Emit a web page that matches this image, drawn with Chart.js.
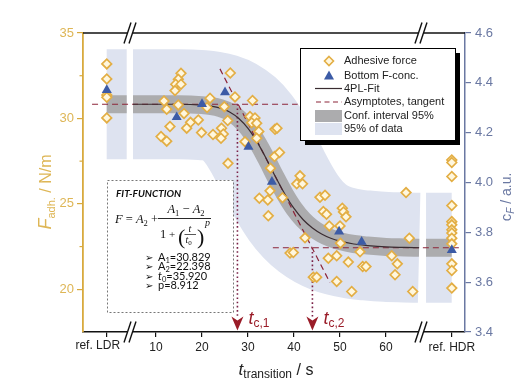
<!DOCTYPE html>
<html><head><meta charset="utf-8">
<script src="https://cdn.jsdelivr.net/npm/chart.js@4.4.1/dist/chart.umd.min.js"></script>
<style>html,body{margin:0;padding:0;background:#fff;}#wrap{width:532px;height:390px;}</style>
</head><body><div id="wrap"><canvas id="c" width="532" height="390"></canvas></div>
<script>
// ---------------- data ----------------
const xMin = -5.87, xMax = 77.17;
const xTickVals = [-0.7, 10, 20, 30, 40, 50, 60, 74.3];
const xTickLabels = ['ref. LDR', '10', '20', '30', '40', '50', '60', 'ref. HDR'];
const xBreaks = [4.35, 67.6];
const yLeftTicks = [20, 25, 30, 35];
const yLeftMinor = [22.5, 27.5, 32.5];
const yRightTicks = [3.4, 3.6, 3.8, 4.0, 4.2, 4.4, 4.6];

// Adhesive force (left axis, N/m)
const adhT = [-0.7, -0.7, -0.7, -0.7, -0.7,
  11.74, 12.33, 15.43, 14.85, 14.28, 15.43, 14.13, 14.85, 16.09, 17.50,
  16.67, 19.20, 13.04, 11.09, 12.33, 19.89, 21.74, 21.09, 22.39, 24.24,
  24.63, 24.13, 26.15, 27.17, 24.85, 25.59, 30.98, 30.43, 31.52, 30.80,
  31.89, 32.35, 29.35, 31.89, 35.87, 36.30, 25.65, 35.76, 36.85, 34.89,
  41.30, 40.59, 41.85, 34.78, 32.46, 34.30, 37.50, 34.41, 45.65, 46.74,
  46.37, 47.07, 50.50, 50.76, 51.30, 47.67, 50.00, 42.39, 50.10, 54.35,
  47.46, 49.28, 39.13, 39.85, 51.80, 54.93, 55.65, 44.20, 44.93, 49.28,
  52.54, 64.35, 65.07, 61.24, 62.46, 61.96, 65.80,
  74.3, 74.3, 74.3, 74.3, 74.3, 74.3, 74.3, 74.3, 74.3, 74.3, 74.3, 74.3, 74.3];
const adhF = [33.19, 32.31, 31.37, 31.24, 30.03,
  31.02, 30.54, 32.64, 32.29, 32.00, 32.00, 31.63, 30.79, 30.29, 29.77,
  29.43, 29.91, 29.53, 28.94, 28.67, 29.17, 31.18, 30.64, 29.06, 29.43,
  29.09, 28.84, 32.66, 31.26, 30.69, 29.88, 31.05, 30.11, 30.03, 29.75,
  29.72, 29.24, 28.64, 28.84, 29.37, 29.43, 27.37, 27.77, 28.01, 27.09,
  26.64, 26.17, 26.17, 25.76, 25.33, 25.23, 25.36, 24.30, 25.39, 25.50,
  24.55, 24.39, 24.75, 24.53, 24.24, 23.71, 23.71, 23.01, 22.70, 22.19,
  21.82, 21.96, 22.12, 22.15, 21.59, 21.33, 21.33, 20.71, 20.71, 20.46,
  19.87, 25.66, 22.99, 21.96, 21.49, 20.85, 19.87,
  27.57, 27.42, 26.60, 24.90, 23.96, 23.77, 23.48, 23.29, 22.99, 22.66, 21.49, 21.10, 20.07];

// Bottom F-concentration (right axis, a.u.)
const concT = [-0.7, 14.5, 20.0, 25.0, 30.1, 35.2, 49.8, 54.7, 74.3];
const concC = [4.371, 4.262, 4.315, 4.362, 4.143, 4.003, 3.803, 3.762, 3.729];

// 4PL fit curve
const fitT = [5, 10, 15, 20, 22, 24, 26, 28, 30, 32, 34, 36, 38, 40, 42, 44, 46, 48, 50, 53, 56, 60, 64, 67.2];
const fitF = [30.83, 30.83, 30.83, 30.78, 30.72, 30.60, 30.38, 30.00, 29.42, 28.61, 27.63, 26.57, 25.58, 24.73, 24.07, 23.59, 23.24, 22.99, 22.82, 22.65, 22.56, 22.48, 22.45, 22.43];

// reference bands
const ldrBandT = [-0.72, 3.63], ldrBandF = [30.83, 30.83];
const hdrBandT = [68.7, 74.28], hdrBandF = [22.43, 22.43];

// asymptotes, tangent, critical times
const upAsymT = [-3.9, 40.8], upAsymF = [30.83, 30.83];
const loAsymT = [35.4, 76.7], loAsymF = [22.43, 22.43];
const tanT = [23.9, 47.8], tanF = [32.9, 20.4];
const tcT = [27.7, 44.0];
const tcTopF = [30.83, 22.43];
const tcBottomF = 18.35;
const tcLabels = ['c,1', 'c,2'];

// ---------------- styles ----------------
const GOLD = '#d8aa3e', GOLDTXT = '#deb656', BLUEAX = '#6a78a2';
const LIGHT = '#dee3f0', GRAY = '#acacae', RED = '#8c2438', DRED = '#9a1c28';
const SANS = '"Liberation Sans", Arial, sans-serif';

function pts(T, V) { return T.map((t, i) => ({ x: t, y: V[i] })); }
function band(T, V, w, col, ord) {
  return { type: 'line', data: pts(T, V), yAxisID: 'yL', borderColor: col, borderWidth: w,
    pointRadius: 0, cubicInterpolationMode: 'monotone', borderCapStyle: 'butt', borderJoinStyle: 'round', order: ord, fill: false };
}
function dline(T, V, dash, col, w, ord) {
  return { type: 'line', data: pts(T, V), yAxisID: 'yL', borderColor: col, borderWidth: w, borderDash: dash,
    pointRadius: 0, order: ord, fill: false };
}

const datasets = [
  { type: 'scatter', label: 'Adhesive force', data: pts(adhT, adhF), yAxisID: 'yL', pointStyle: 'rectRot',
    pointRadius: 4.8, borderWidth: 1.7, borderColor: '#e3ae44', backgroundColor: '#fff7de', order: 1 },
  { type: 'scatter', label: 'Bottom F-conc.', data: pts(concT, concC), yAxisID: 'yR', pointStyle: 'triangle',
    pointRadius: 5.8, borderWidth: 0, borderColor: '#3c5ba6', backgroundColor: '#3c5ba6', order: 0 },
  { type: 'line', label: '4PL-Fit', data: pts(fitT, fitF), yAxisID: 'yL', borderColor: '#3a2c31', borderWidth: 1.2,
    pointRadius: 0, cubicInterpolationMode: 'monotone', order: 3, fill: false },
  dline(upAsymT, upAsymF, [6, 4], RED, 1.2, 4),
  dline(loAsymT, loAsymF, [6, 4], RED, 1.2, 4),
  dline(tanT, tanF, [6, 4], RED, 1.2, 4),
  dline([tcT[0], tcT[0]], [tcTopF[0], tcBottomF], [1.6, 2.6], '#7a2046', 1.6, 4),
  dline([tcT[1], tcT[1]], [tcTopF[1], tcBottomF], [1.6, 2.6], '#7a2046', 1.6, 4),
  band(fitT, fitF, 18, GRAY, 8),
  band(ldrBandT, ldrBandF, 18, GRAY, 8),
  band(hdrBandT, hdrBandF, 18, GRAY, 8),
  band(fitT, fitF, 110, LIGHT, 9),
  band(ldrBandT, ldrBandF, 110, LIGHT, 9),
  band(hdrBandT, hdrBandF, 110, LIGHT, 9)
];

function drawRich(ctx, x, y, parts, align) {
  let w = 0;
  for (const p of parts) { ctx.font = p[1]; w += ctx.measureText(p[0]).width; }
  let cx = align === 'center' ? x - w / 2 : x;
  for (const p of parts) { ctx.font = p[1]; ctx.fillText(p[0], cx, y + (p[2] || 0)); cx += ctx.measureText(p[0]).width; }
  return w;
}

const deco = {
  id: 'deco',
  afterDatasetsDraw(chart) {
    const ctx = chart.ctx, xs = chart.scales.x, yl = chart.scales.yL;
    ctx.save();
    tcT.forEach((t, i) => {
      const px = xs.getPixelForValue(t);
      const py = yl.getPixelForValue(tcBottomF);
      ctx.fillStyle = DRED;
      ctx.beginPath();
      ctx.moveTo(px - 6, py - 1); ctx.lineTo(px, py + 3); ctx.lineTo(px + 6, py - 1); ctx.lineTo(px, py + 13);
      ctx.closePath(); ctx.fill();
      ctx.textAlign = 'left'; ctx.textBaseline = 'alphabetic';
      drawRich(ctx, px + 11, py + 7, [['t', 'italic 18px ' + SANS], [tcLabels[i], '12px ' + SANS, 3]]);
    });
    ctx.restore();
  },
  afterDraw(chart) {
    const ctx = chart.ctx, ca = chart.chartArea, xs = chart.scales.x, yl = chart.scales.yL;
    ctx.save();
    // top axis line
    ctx.strokeStyle = '#111'; ctx.lineWidth = 1.5;
    ctx.beginPath(); ctx.moveTo(ca.left, ca.top); ctx.lineTo(ca.right, ca.top); ctx.stroke();
    // axis breaks
    xBreaks.forEach(b => {
      const bx = xs.getPixelForValue(b);
      [ca.top, ca.bottom].forEach(by => {
        ctx.fillStyle = '#fff'; ctx.fillRect(bx - 2.5, by - 2, 5, 4);
        ctx.strokeStyle = '#111'; ctx.lineWidth = 1.4;
        [-2.5, 2.5].forEach(o => {
          ctx.beginPath(); ctx.moveTo(bx + o - 3.5, by + 10.5); ctx.lineTo(bx + o + 3.5, by - 10.5); ctx.stroke();
        });
      });
    });
    // minor ticks left
    ctx.strokeStyle = GOLD; ctx.lineWidth = 1.2;
    yLeftMinor.forEach(v => {
      const py = yl.getPixelForValue(v);
      ctx.beginPath(); ctx.moveTo(ca.left - 3.5, py); ctx.lineTo(ca.left, py); ctx.stroke();
    });
    ctx.textAlign = 'left'; ctx.textBaseline = 'alphabetic';
    // first x label (set left of its tick, as in the original)
    ctx.fillStyle = '#222'; ctx.font = '12px ' + SANS; ctx.textAlign = 'center'; ctx.textBaseline = 'top';
    ctx.fillText(xTickLabels[0], xs.getPixelForValue(xTickVals[0]) - 9, ca.bottom + 8);
    ctx.textAlign = 'left'; ctx.textBaseline = 'alphabetic';
    // left title
    ctx.save(); ctx.translate(51, 192); ctx.rotate(-Math.PI / 2); ctx.fillStyle = GOLDTXT;
    drawRich(ctx, 0, 0, [['F', 'italic 18px ' + SANS], ['adh.', '11px ' + SANS, 4], [' / N/m', '16px ' + SANS]], 'center');
    ctx.restore();
    // right title
    ctx.save(); ctx.translate(511, 197); ctx.rotate(-Math.PI / 2); ctx.fillStyle = BLUEAX;
    drawRich(ctx, 0, 0, [['c', '15px ' + SANS], ['F', 'italic 10px ' + SANS, 3], [' / a.u.', '14px ' + SANS]], 'center');
    ctx.restore();
    // x title
    ctx.fillStyle = '#222';
    drawRich(ctx, 276, 375, [['t', 'italic 17px ' + SANS], ['transition', '12px ' + SANS, 3], [' / s', '16px ' + SANS]], 'center');

    // fit-function box
    ctx.fillStyle = '#fff'; ctx.fillRect(107, 180, 126, 132);
    ctx.strokeStyle = '#777'; ctx.lineWidth = 1; ctx.setLineDash([2, 2]);
    ctx.strokeRect(107.5, 180.5, 126, 132); ctx.setLineDash([]);
    ctx.fillStyle = '#111';
    ctx.font = 'italic bold 10px Lato, sans-serif'; ctx.fillText('FIT-FUNCTION', 116, 197);
    const SI = 'italic 12.5px "Liberation Serif", serif', SR = '12.5px "Liberation Serif", serif', SS = '8.5px "Liberation Serif", serif';
    drawRich(ctx, 115, 223, [['F', SI], [' = ', SR], ['A', SI], ['2', SS, 3], [' +', SR]]);
    ctx.lineWidth = 0.9; ctx.strokeStyle = '#111';
    ctx.beginPath(); ctx.moveTo(158, 218.5); ctx.lineTo(211, 218.5); ctx.stroke();
    drawRich(ctx, 186, 213, [['A', SI], ['1', SS, 3], [' \u2212 ', SR], ['A', SI], ['2', SS, 3]], 'center');
    drawRich(ctx, 160, 238, [['1', SR], [' + ', '11px "Liberation Serif", serif']]);
    ctx.font = '22px "Liberation Serif", serif'; ctx.fillText('(', 178, 244); ctx.fillText(')', 197, 244);
    ctx.font = 'italic 10px "Liberation Serif", serif'; ctx.textAlign = 'center'; ctx.fillText('t', 190, 232);
    ctx.beginPath(); ctx.moveTo(184.5, 234.5); ctx.lineTo(196, 234.5); ctx.lineWidth = 0.7; ctx.stroke();
    ctx.textAlign = 'left';
    drawRich(ctx, 185.5, 243, [['t', 'italic 10px "Liberation Serif", serif'], ['0', '7px "Liberation Serif", serif', 2]]);
    ctx.font = 'italic 10px "Liberation Serif", serif'; ctx.fillText('p', 205, 226);
    const BF = '11px Lato, sans-serif', BS = '7.5px Lato, sans-serif', BI = 'italic 11px Lato, sans-serif';
    const rows = [
      [['A', BF], ['1', BS, 2], ['=30.829', BF]],
      [['A', BF], ['2', BS, 2], ['=22.398', BF]],
      [['t', BI], ['0', BS, 2], ['=35.920', BF]],
      [['p=8.912', BF]]
    ];
    rows.forEach((r, i) => {
      const y = 261 + i * 9.3;
      ctx.font = '10px "DejaVu Sans", sans-serif'; ctx.fillText('\u27A2', 145, y);
      drawRich(ctx, 158, y, r);
    });

    // legend
    const LX = 300, LY = 48, LW = 155, LH = 92;
    ctx.fillStyle = '#000'; ctx.fillRect(LX + 5, LY + 5, LW, LH);
    ctx.fillStyle = '#fff'; ctx.fillRect(LX, LY, LW, LH);
    ctx.strokeStyle = '#000'; ctx.lineWidth = 1; ctx.strokeRect(LX + 0.5, LY + 0.5, LW, LH);
    const rowsY = [61, 75.5, 88.5, 102, 115.5, 128.5];
    const labels = ['Adhesive force', 'Bottom F-conc.', '4PL-Fit', 'Asymptotes, tangent', 'Conf. interval 95%', '95% of data'];
    const ix = 329;
    ctx.beginPath(); ctx.moveTo(ix, rowsY[0] - 4.5); ctx.lineTo(ix + 4.5, rowsY[0]); ctx.lineTo(ix, rowsY[0] + 4.5); ctx.lineTo(ix - 4.5, rowsY[0]); ctx.closePath();
    ctx.fillStyle = '#fff7de'; ctx.fill(); ctx.strokeStyle = '#e3ae44'; ctx.lineWidth = 1.6; ctx.stroke();
    ctx.beginPath(); ctx.moveTo(ix, rowsY[1] - 5); ctx.lineTo(ix + 5, rowsY[1] + 4); ctx.lineTo(ix - 5, rowsY[1] + 4); ctx.closePath();
    ctx.fillStyle = '#3c5ba6'; ctx.fill();
    ctx.strokeStyle = '#3a2c31'; ctx.lineWidth = 1.2;
    ctx.beginPath(); ctx.moveTo(315, rowsY[2]); ctx.lineTo(342, rowsY[2]); ctx.stroke();
    ctx.strokeStyle = RED; ctx.setLineDash([5, 3.5]);
    ctx.beginPath(); ctx.moveTo(316, rowsY[3]); ctx.lineTo(342, rowsY[3]); ctx.stroke(); ctx.setLineDash([]);
    ctx.fillStyle = GRAY; ctx.fillRect(315, 110, 27, 12);
    ctx.fillStyle = LIGHT; ctx.fillRect(315, 123, 27, 12);
    ctx.fillStyle = '#222'; ctx.font = '11px ' + SANS; ctx.textBaseline = 'middle';
    labels.forEach((l, i) => ctx.fillText(l, 344, rowsY[i]));
    ctx.restore();
  }
};

new Chart(document.getElementById('c'), {
  type: 'scatter',
  data: { datasets },
  options: {
    responsive: false, animation: false, events: [],
    layout: { padding: { top: 33, left: 0, right: 0, bottom: 0 } },
    plugins: { legend: { display: false }, tooltip: { enabled: false } },
    scales: {
      x: {
        type: 'linear', min: xMin, max: xMax,
        afterBuildTicks: s => { s.ticks = xTickVals.map(v => ({ value: v })); },
        afterFit: s => { s.height = 58; },
        ticks: { callback: (v, i) => (i === 0 ? '' : xTickLabels[i]), color: '#222', font: { family: SANS, size: 12 }, padding: 3, maxRotation: 0, autoSkip: false },
        grid: { drawOnChartArea: false, drawTicks: true, tickLength: 5, color: '#111', lineWidth: 1.2 },
        border: { display: true, color: '#111', width: 1.5 }
      },
      yL: {
        type: 'linear', position: 'left', min: 17.5, max: 35,
        afterBuildTicks: s => { s.ticks = yLeftTicks.map(v => ({ value: v })); },
        afterFit: s => { s.width = 83; },
        ticks: { color: GOLDTXT, font: { family: SANS, size: 13 }, padding: 3 },
        grid: { drawOnChartArea: false, tickLength: 6, color: GOLD, lineWidth: 1.2 },
        border: { display: true, color: GOLD, width: 1.8 }
      },
      yR: {
        type: 'linear', position: 'right', min: 3.4, max: 4.6,
        afterBuildTicks: s => { s.ticks = yRightTicks.map(v => ({ value: v })); },
        afterFit: s => { s.width = 67; },
        ticks: { color: BLUEAX, font: { family: SANS, size: 13 }, padding: 4, callback: v => v.toFixed(1) },
        grid: { drawOnChartArea: false, tickLength: 6, color: BLUEAX, lineWidth: 1.2 },
        border: { display: true, color: BLUEAX, width: 1.5 }
      }
    }
  },
  plugins: [deco]
});
</script></body></html>
